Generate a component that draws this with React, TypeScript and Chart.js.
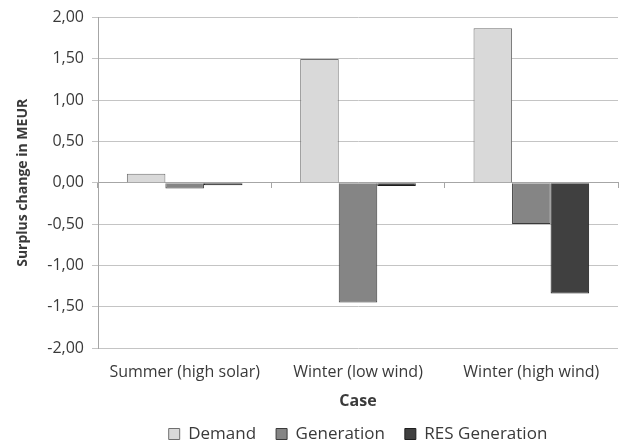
import React, { useEffect, useRef } from "react";
import { Chart, registerables } from "chart.js";

Chart.register(...registerables);

const categories = ["Summer (high solar)", "Winter (low wind)", "Winter (high wind)"];
const demand = [0.11, 1.5, 1.87];
const generation = [-0.07, -1.45, -0.5];
const resGeneration = [-0.03, -0.04, -1.34];
const yMin = -2;
const yMax = 2;
const yStep = 0.5;

const FONT = "'Open Sans'";
const TEXT = "#3a3a3a";

export default function App() {
  const ref = useRef<HTMLCanvasElement | null>(null);
  useEffect(() => {
    document.body.style.margin = "0";
    const ctx = ref.current!;
    const chart = new Chart(ctx, {
      type: "bar",
      data: {
        labels: categories,
        datasets: [
          { label: "Demand", data: demand, backgroundColor: "#d9d9d9", borderColor: "#6f6f6f", borderWidth: 1 },
          { label: "Generation", data: generation, backgroundColor: "#858585", borderColor: "#3a3a3a", borderWidth: 1 },
          { label: "RES Generation", data: resGeneration, backgroundColor: "#404040", borderColor: "#1e1e1e", borderWidth: 1 },
        ],
      },
      options: {
        animation: false,
        responsive: false,
        maintainAspectRatio: false,
        layout: { padding: { top: 6, right: 2, left: 0, bottom: -11.5 } },
        datasets: { bar: { categoryPercentage: 0.667, barPercentage: 1 } },
        plugins: {
          tooltip: { enabled: false },
          legend: {
            position: "bottom",
            fullSize: false,
            labels: {
              font: { family: FONT, size: 17 },
              color: TEXT,
              boxWidth: 11,
              boxHeight: 11,
              padding: 20,
            },
          },
        },
        scales: {
          x: {
            offset: true,
            grid: { display: false, offset: true, drawTicks: false },
            border: { display: false },
            ticks: { font: { family: FONT, size: 16 }, color: TEXT, padding: 15 },
            title: {
              display: true,
              text: "Case",
              font: { family: FONT, size: 16, weight: "bold" },
              color: TEXT,
              padding: { top: 9.2, bottom: -5.1 },
            },
            afterFit: (s: any) => {
              s.height = 57.5;
            },
          },
          x2: {
            type: "category",
            labels: categories,
            position: { y: 0 },
            offset: true,
            grid: { offset: true, drawOnChartArea: false, tickLength: 5, color: "#a6a6a6" },
            border: { display: true, color: "#a6a6a6" },
            ticks: { display: false },
          },
          y: {
            min: yMin,
            max: yMax,
            ticks: {
              stepSize: yStep,
              font: { family: FONT, size: 16 },
              color: TEXT,
              padding: 8,
              callback: (v: any) => Number(v).toFixed(2).replace(".", ","),
            },
            grid: { color: "#c4c4c4", tickLength: 6 },
            border: { display: true, color: "#a6a6a6" },
            title: {
              display: true,
              text: "Surplus change in MEUR",
              font: { family: FONT, size: 14, weight: "bold" },
              color: TEXT,
              padding: { top: 15, bottom: 4 },
            },
            afterFit: (s: any) => {
              s.width = 98;
            },
          },
        },
      },
    });
    return () => chart.destroy();
  }, []);
  return <canvas ref={ref} width={620} height={441} style={{ display: "block" }} />;
}
